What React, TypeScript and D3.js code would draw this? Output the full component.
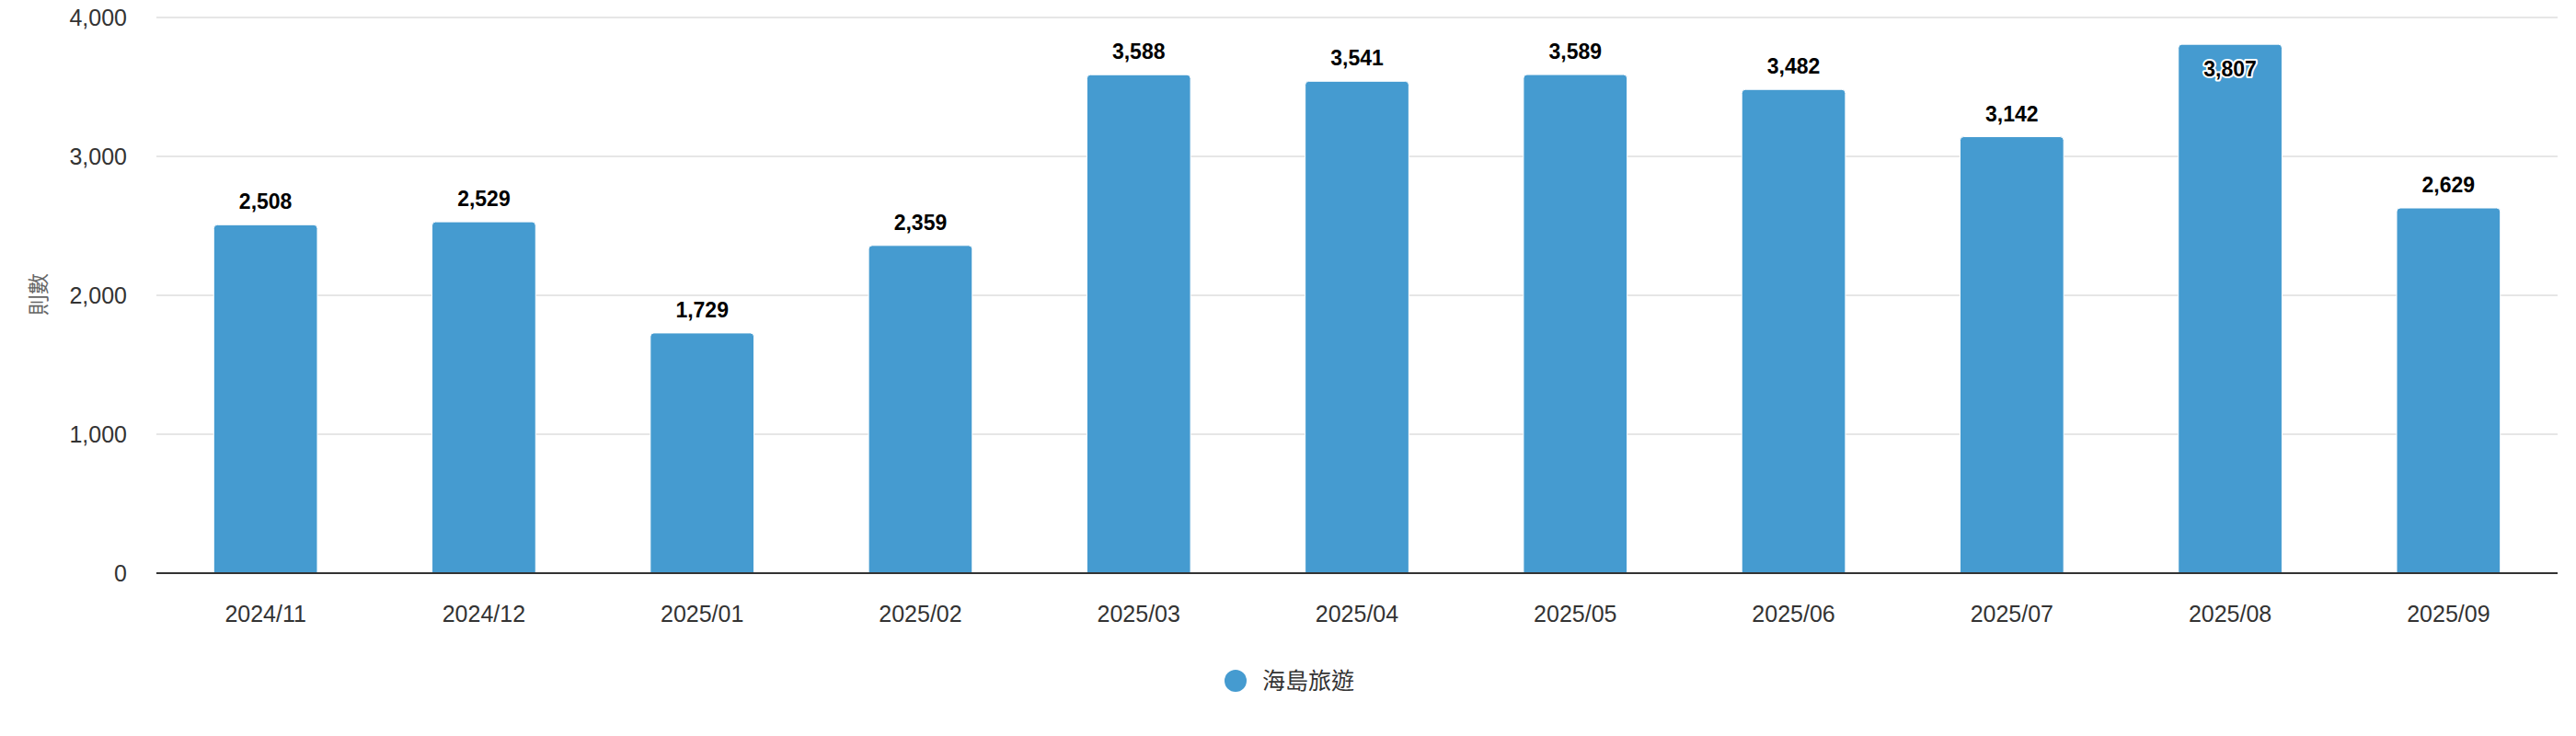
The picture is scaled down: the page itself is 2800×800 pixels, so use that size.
import React from "react";
import * as d3 from "d3";

const categories = ["2024/11", "2024/12", "2025/01", "2025/02", "2025/03", "2025/04", "2025/05", "2025/06", "2025/07", "2025/08", "2025/09"];
const values = [2508, 2529, 1729, 2359, 3588, 3541, 3589, 3482, 3142, 3807, 2629];
const yTicks = [0, 1000, 2000, 3000, 4000];
const seriesName = "海島旅遊";
const yTitle = "則數";

const W = 2800, H = 800;
const left = 170, right = 2780, top = 19, bottom = 623;
const barColor = "#459bd0";
const font = "'Liberation Sans', Arial, Helvetica, sans-serif";
const cjk = "'Noto Sans CJK TC', 'Noto Sans', sans-serif";

function topRounded(x: number, y: number, w: number, h: number, r: number) {
  const rr = Math.min(r, h, w / 2);
  return `M${x},${y + h}V${y + rr}Q${x},${y} ${x + rr},${y}H${x + w - rr}Q${x + w},${y} ${x + w},${y + rr}V${y + h}Z`;
}

export default function App() {
  const x = d3.scaleBand<string>().domain(categories).range([left, right]).paddingInner(0.525).paddingOuter(0.2625);
  const y = d3.scaleLinear().domain([0, 4000]).range([bottom, top]);
  const fmt = d3.format(",");
  const bw = x.bandwidth();
  return (
    <svg width={W} height={H} style={{ position: "absolute", left: 0, top: 0, background: "#fff" }}>
      <rect x={0} y={0} width={W} height={H} fill="#fff" />
      {yTicks.map((t) => (
        <g key={t}>
          {t !== 0 && <line x1={left} x2={right} y1={y(t)} y2={y(t)} stroke="#e6e6e6" strokeWidth={2} />}
          <text x={138} y={y(t) + 9} textAnchor="end" fontFamily={font} fontSize={25} fill="#333">{fmt(t)}</text>
        </g>
      ))}
      <text transform={`translate(50,320) rotate(-90)`} textAnchor="middle" fontFamily={cjk} fontSize={23} fill="#666">{yTitle}</text>
      {categories.map((c, i) => {
        const bx = x(c)!;
        const by = y(values[i]);
        return (
          <path key={c} d={topRounded(bx, by, bw, bottom - by, 4)} fill={barColor} stroke="#fff" strokeWidth={1} />
        );
      })}
      <line x1={left} x2={right} y1={bottom} y2={bottom} stroke="#333" strokeWidth={2} />
      {categories.map((c, i) => {
        const cx = x(c)! + bw / 2;
        const by = y(values[i]);
        const inside = by - 17 - 20 < top;
        const ly = inside ? by + 35 : by - 17;
        return (
          <g key={c}>
            <text x={cx} y={676} textAnchor="middle" fontFamily={font} fontSize={25} fill="#333">{c}</text>
            <text x={cx} y={ly} textAnchor="middle" fontFamily={font} fontSize={23} fontWeight="bold" fill="#000"
              stroke={inside ? "#fff" : "none"} strokeWidth={inside ? 4 : 0} strokeLinejoin="round" paintOrder="stroke">{fmt(values[i])}</text>
          </g>
        );
      })}
      <circle cx={1343} cy={740} r={12} fill={barColor} />
      <text x={1372} y={749} fontFamily={cjk} fontSize={25} fill="#333">{seriesName}</text>
    </svg>
  );
}
